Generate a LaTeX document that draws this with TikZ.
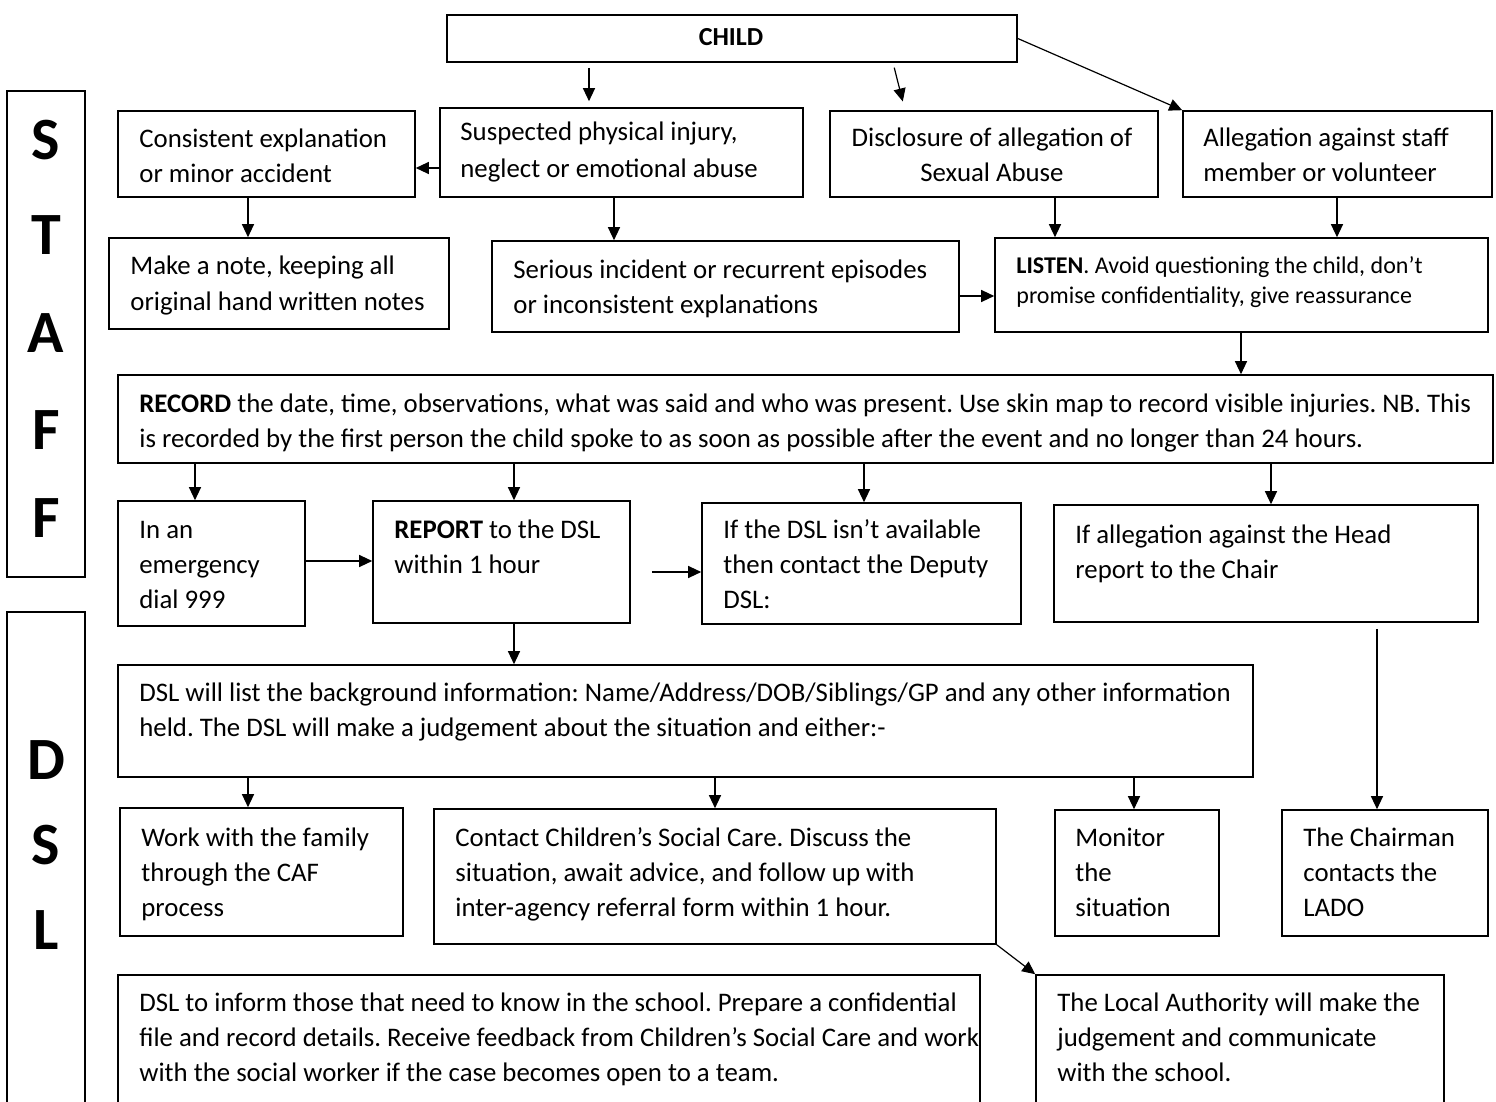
\documentclass[tikz,border=0pt]{standalone}
\usepackage{fontspec}
\setmainfont{Carlito}
\usetikzlibrary{arrows.meta,fit,calc}
\frenchspacing
\begin{document}
\begin{tikzpicture}[x=0.5pt,y=-0.5pt,
 boxst/.style={draw, line width=0.8pt, inner sep=0pt},
 txt/.style={inner sep=0pt, anchor=base west, align=left, font=\fontsize{13.4}{17.5}\selectfont},
 smalltxt/.style={txt, font=\fontsize{12}{15}\selectfont},
 side/.style={inner sep=0pt, font=\fontsize{30}{36}\selectfont\bfseries},
 arr/.style={line width=0.6pt, -{Triangle[length=6.5pt,width=6pt]}}]
\useasboundingbox (0,0) rectangle (1496,1102);
\clip (0,0) rectangle (1496,1102);

% coordinates for connector lines
\foreach \xv in {195,248,514,589,614,715,864,893,905,1055,1134,1241,1271,1337,1377}{\coordinate (x\xv) at (\xv,0);}
\foreach \yv in {168,296,561,572}{\coordinate (y\yv) at (0,\yv);}

% side labels
\node[boxst, fit={(7,91) (85,577)}] (staff) {};
\node[side] (s1) at (46,140) {S};
\node[side] (s2) at (46,235) {T};
\node[side] (s3) at (46,333) {A};
\node[side] (s4) at (46,430) {F};
\node[side] (s5) at (46,518) {F};
\node[boxst, fit={(7,612) (85,1115)}] (dslside) {};
\node[side] (d1) at (46,760) {D};
\node[side] (d2) at (46,845) {S};
\node[side] (d3) at (46,930) {L};

% boxes (text nodes anchored at the baseline of their last line)
\node[boxst, fit={(447,15) (1017,62)}] (chi) {};
\node[inner sep=0pt, font=\fontsize{13}{15}\selectfont\bfseries] (chit) at (731,37) {CHILD};

\node[boxst, fit={(118,111) (415,197)}] (con) {};
\node[txt] (cont) at (139,183) {Consistent explanation\\or minor accident};
\node[boxst, fit={(440,108) (803,197)}] (sus) {};
\node[txt, font=\fontsize{13.4}{18.5}\selectfont] (sust) at (460,178) {Suspected physical injury,\\neglect or emotional abuse};
\node[boxst, fit={(830,111) (1158,197)}] (dis) {};
\node[txt, anchor=base, align=center] (dist) at (992,182) {Disclosure of allegation of\\Sexual Abuse};
\node[boxst, fit={(1183,111) (1492,197)}] (alg) {};
\node[txt] (algt) at (1203,182) {Allegation against staff\\member or volunteer};

\node[boxst, fit={(109,238) (449,329)}] (mk) {};
\node[txt] (mkt) at (130,310) {Make a note, keeping all\\original hand written notes};
\node[boxst, fit={(492,241) (959,332)}] (ser) {};
\node[txt] (sert) at (513,314) {Serious incident or recurrent episodes\\or inconsistent explanations};
\node[boxst, fit={(995,238) (1488,332)}] (lis) {};
\node[smalltxt] (list) at (1016,303) {\textbf{LISTEN}. Avoid questioning the child, don’t\\promise confidentiality, give reassurance};

\node[boxst, fit={(118,375) (1493,463)}] (rec) {};
\node[txt] (rect) at (139,447) {\textbf{RECORD} the date, time, observations, what was said and who was present. Use skin map to record visible injuries. NB. This\\is recorded by the first person the child spoke to as soon as possible after the event and no longer than 24 hours.};

\node[boxst, fit={(118,501) (305,626)}] (em) {};
\node[txt] (emt) at (139,608) {In an\\emergency\\dial 999};
\node[boxst, fit={(373,501) (630,623)}] (rep) {};
\node[txt] (rept) at (394,573) {\textbf{REPORT} to the DSL\\within 1 hour};
\node[boxst, fit={(702,503) (1021,624)}] (dpt) {};
\node[txt] (dptt) at (723,608) {If the DSL isn’t available\\then contact the Deputy\\DSL:};
\node[boxst, fit={(1054,505) (1478,622)}] (hd) {};
\node[txt] (hdt) at (1075,578) {If allegation against the Head\\report to the Chair};

\node[boxst, fit={(118,665) (1253,777)}] (bg) {};
\node[txt] (bgt) at (139,736) {DSL will list the background information: Name/Address/DOB/Siblings/GP and any other information\\held. The DSL will make a judgement about the situation and either:-};

\node[boxst, fit={(120,808) (403,936)}] (wk) {};
\node[txt] (wkt) at (141,916) {Work with the family\\through the CAF\\process};
\node[boxst, fit={(434,809) (996,944)}] (csc) {};
\node[txt] (csct) at (455,916) {Contact Children’s Social Care. Discuss the\\situation, await advice, and follow up with\\inter-agency referral form within 1 hour.};
\node[boxst, fit={(1055,810) (1219,936)}] (mon) {};
\node[txt] (mont) at (1075,916) {Monitor\\the\\situation};
\node[boxst, fit={(1282,810) (1488,936)}] (chm) {};
\node[txt] (chmt) at (1303,916) {The Chairman\\contacts the\\LADO};

\node[boxst, fit={(118,975) (980,1115)}] (inf) {};
\node[txt] (inft) at (139,1081) {DSL to inform those that need to know in the school. Prepare a confidential\\file and record details. Receive feedback from Children’s Social Care and work\\with the social worker if the case becomes open to a team.};
\node[boxst, fit={(1036,975) (1444,1115)}] (la) {};
\node[txt] (lat) at (1057,1081) {The Local Authority will make the\\judgement and communicate\\with the school.};

% connectors
\draw[arr, shorten <=2.5pt, shorten >=3pt] (chi.south -| x589) -- (sus.north -| x589);
\draw[arr, shorten <=2.5pt, shorten >=4.5pt] (chi.south -| x893) -- (dis.north -| x905);
\draw[arr] (chi.east) -- (alg.north west);
\draw[arr] (sus.west |- y168) -- (con.east |- y168);
\draw[arr] (con.south -| x248) -- (mk.north -| x248);
\draw[arr] (sus.south -| x614) -- (ser.north -| x614);
\draw[arr] (ser.east |- y296) -- (lis.west |- y296);
\draw[arr] (dis.south -| x1055) -- (lis.north -| x1055);
\draw[arr] (alg.south -| x1337) -- (lis.north -| x1337);
\draw[arr] (lis.south -| x1241) -- (rec.north -| x1241);
\draw[arr] (rec.south -| x195) -- (em.north -| x195);
\draw[arr] (rec.south -| x514) -- (rep.north -| x514);
\draw[arr] (rec.south -| x864) -- (dpt.north -| x864);
\draw[arr] (rec.south -| x1271) -- (hd.north -| x1271);
\draw[arr] (em.east |- y561) -- (rep.west |- y561);
\draw[arr, shorten <=10.5pt] (rep.east |- y572) -- (dpt.west |- y572);
\draw[arr] (rep.south -| x514) -- (bg.north -| x514);
\draw[arr, shorten <=3pt] (hd.south -| x1377) -- (chm.north -| x1377);
\draw[arr] (bg.south -| x248) -- (wk.north -| x248);
\draw[arr] (bg.south -| x715) -- (csc.north -| x715);
\draw[arr] (bg.south -| x1134) -- (mon.north -| x1134);
\draw[arr] (csc.south east) -- (la.north west);
\end{tikzpicture}
\end{document}
